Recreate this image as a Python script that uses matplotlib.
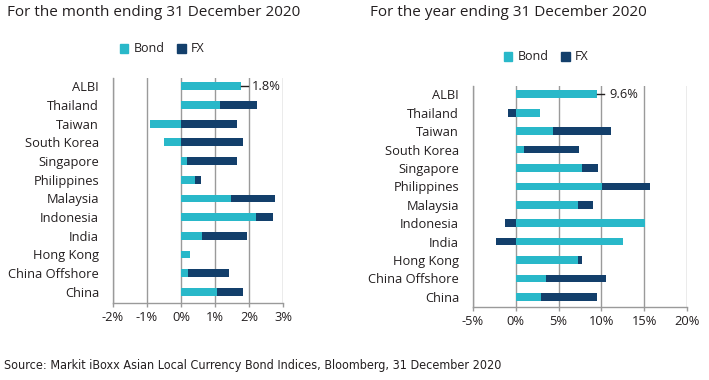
import numpy as np
import matplotlib.pyplot as plt
from matplotlib.patches import Patch

plt.rcParams['font.family'] = ['Open Sans', 'DejaVu Sans']

countries = ['ALBI', 'Thailand', 'Taiwan', 'South Korea', 'Singapore', 'Philippines',
             'Malaysia', 'Indonesia', 'India', 'Hong Kong', 'China Offshore', 'China']

# month ending 31 Dec 2020 (%)
month_bond = [1.76, 1.15, -0.91, -0.50, 0.18, 0.41, 1.47, 2.21, 0.61, 0.25, 0.20, 1.06]
month_fx = [0.0, 1.08, 1.66, 1.83, 1.46, 0.19, 1.30, 0.50, 1.32, 0.0, 1.22, 0.77]
month_label = '1.8%'

# year ending 31 Dec 2020 (%)
year_bond = [9.45, 2.81, 4.38, 0.98, 7.73, 10.08, 7.30, 15.04, 12.58, 7.30, 3.55, 2.89]
year_fx = [0.0, -0.86, 6.71, 6.36, 1.88, 5.55, 1.76, -1.29, -2.34, 0.43, 7.03, 6.64]
year_label = '9.6%'

month_ticks = [-2, -1, 0, 1, 2, 3]
year_ticks = [-5, 0, 5, 10, 15, 20]

bond_color = '#29b8c9'
fx_color = '#133f6b'
grid_color = '#9a9a9a'
text_color = '#231f20'

W, H = 709, 380
fig = plt.figure(figsize=(W / 100, H / 100), dpi=100)


def px_axes(x0, x1, ytop, ybot):
    return fig.add_axes([x0 / W, 1 - ybot / H, (x1 - x0) / W, (ybot - ytop) / H])


def draw_panel(ax, bond, fx, ticks, ylim, label, label_gap, leader):
    n = len(countries)
    y = np.arange(n)[::-1]
    bond = np.array(bond)
    fx = np.array(fx)
    # FX stacks on bond when same sign, otherwise starts at zero
    fx_left = np.where(np.sign(fx) == np.sign(bond), bond, 0)
    ax.barh(y, bond, height=0.42, color=bond_color, zorder=3)
    ax.barh(y, fx, left=fx_left, height=0.42, color=fx_color, zorder=3)

    ax.set_xlim(ticks[0], ticks[-1])
    ax.set_ylim(*ylim)
    ax.set_xticks(ticks)
    ax.set_xticklabels([f'{t}%' for t in ticks], fontsize=9.3, color=text_color)
    ax.set_yticks(y)
    ax.set_yticklabels(countries, fontsize=9.3, color=text_color)
    ax.tick_params(axis='y', length=0, pad=10)
    ax.tick_params(axis='x', length=3, width=1, color=grid_color, pad=3)
    ax.grid(axis='x', color=grid_color, lw=1, zorder=0)
    for s in ['top', 'right']:
        ax.spines[s].set_visible(False)
    for s in ['left', 'bottom']:
        ax.spines[s].set_color(grid_color)
        ax.spines[s].set_linewidth(1)

    # ALBI total label with short leader line
    top = y[0]
    end = bond[0] + fx[0]
    ax.plot([end, end + leader], [top, top], color=text_color, lw=1, zorder=4)
    ax.text(end + leader + label_gap, top, label, va='center', ha='left',
            fontsize=9.3, color=text_color)


ax1 = px_axes(113, 283, 78, 303)
draw_panel(ax1, month_bond, month_fx, month_ticks, (-0.6, 11.45), month_label, 0.1, 0.22)

ax2 = px_axes(473, 687, 86, 307)
draw_panel(ax2, year_bond, year_fx, year_ticks, (-0.55, 11.45), year_label, 0.6, 0.9)

fig.text(7 / W, 1 - 13 / H, 'For the month ending 31 December 2020', fontsize=11,
         color=text_color, va='center', ha='left')
fig.text(370 / W, 1 - 13 / H, 'For the year ending 31 December 2020', fontsize=11,
         color=text_color, va='center', ha='left')

handles = [Patch(color=bond_color, label='Bond'), Patch(color=fx_color, label='FX')]
for xc, yc in [(162 / W, 1 - 49 / H), (546 / W, 1 - 57 / H)]:
    fig.legend(handles=handles, loc='center', bbox_to_anchor=(xc, yc), ncol=2,
               frameon=False, fontsize=9, handlelength=0.7, handleheight=0.7,
               handletextpad=0.4, columnspacing=1.0, labelcolor=text_color)

fig.text(4 / W, 1 - 366 / H, 'Source: Markit iBoxx Asian Local Currency Bond Indices, Bloomberg, 31 December 2020',
         fontsize=9, color=text_color, va='center', ha='left',
         family=['DejaVu Sans'], fontstretch='condensed')

fig.savefig('out.png', dpi=100)
